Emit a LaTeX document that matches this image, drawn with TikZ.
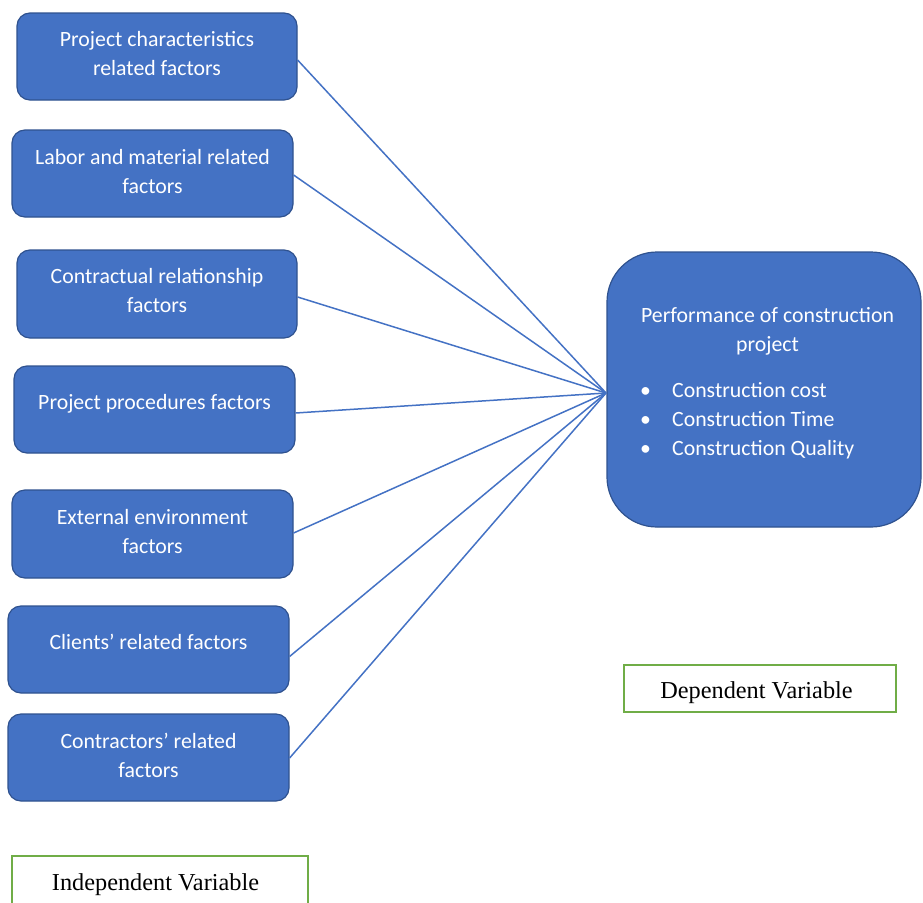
\documentclass[tikz,border=0pt]{standalone}
\usepackage{fontspec}
\setmainfont{Liberation Serif}
\newfontfamily\calfont{Carlito}
\usetikzlibrary{calc}
\definecolor{boxblue}{HTML}{4472C4}
\definecolor{boxedge}{HTML}{2F528F}
\definecolor{vargreen}{HTML}{70AD47}
\tikzset{
  factor/.style={draw=boxedge, fill=boxblue, line width=1.2pt, rounded corners=13pt,
    minimum width=281pt, minimum height=87pt, inner sep=0pt},
  ftext/.style={text=white, font=\calfont\fontsize{21.8}{29}\selectfont, align=center, inner sep=0pt},
  link/.style={draw=boxblue, line width=1.5pt},
  varbox/.style={draw=vargreen, line width=1.5pt, inner sep=0pt},
  vartext/.style={inner sep=0pt, font=\fontsize{24.3}{28}\selectfont}
}
\begin{document}
\begin{tikzpicture}[x=1pt,y=-1pt]
\useasboundingbox (0,0) rectangle (923,902);
% factor boxes
\node[factor, minimum width=280pt] (b1) at (157,56.5) {};
\node[factor] (b2) at (152.5,173.5) {};
\node[factor, minimum width=280pt, minimum height=88pt] (b3) at (157,294) {};
\node[factor] (b4) at (154.5,409.5) {};
\node[factor, minimum height=88pt] (b5) at (152.5,534) {};
\node[factor] (b6) at (148.5,649.5) {};
\node[factor] (b7) at (148.5,757.5) {};
% factor texts
\node[ftext] (t1) at (157,53.5) {Project characteristics\\related factors};
\node[ftext] (t2) at (152.5,172) {Labor and material related\\factors};
\node[ftext] (t3) at (157,291) {Contractual relationship\\factors};
\node[ftext] (t4) at (154.5,404) {Project procedures factors};
\node[ftext] (t5) at (152.5,531.5) {External environment\\factors};
\node[ftext] (t6) at (148.5,641.5) {Clients’ related factors};
\node[ftext] (t7) at (148.5,755.5) {Contractors’ related\\factors};
% dependent box
\node[draw=boxedge, fill=boxblue, line width=1.2pt, rounded corners=50pt, inner sep=0pt,
      minimum width=314pt, minimum height=275pt] (perf) at (764,389.5) {};
\node[ftext] (ptitle) at (767.5,331.5) {Performance of construction\\project};
\node[ftext, align=left, anchor=west] (plist) at (640,421)
  {\makebox[32pt][l]{•}Construction cost\\
   \makebox[32pt][l]{•}Construction Time\\
   \makebox[32pt][l]{•}Construction Quality};
% connectors
\coordinate (hub) at (606,393);
\draw[link] ($(b1.east)+(0,3.5)$) -- (hub);
\draw[link] ($(b2.east)+(0,1.5)$) -- (hub);
\draw[link] ($(b3.east)+(0,3)$) -- (hub);
\draw[link] ($(b4.east)+(0,3.5)$) -- (hub);
\draw[link] ($(b5.east)+(0,-1)$) -- (hub);
\draw[link] ($(b6.east)+(0,7)$) -- (hub);
\draw[link] ($(b7.east)+(0,0.5)$) -- (hub);
% variable labels
\node[varbox, minimum width=272pt, minimum height=47pt] (dep) at (760,688.5) {};
\node[vartext] (deptext) at (756.5,692.5) {Dependent Variable};
\node[varbox, minimum width=296pt, minimum height=56pt] (indep) at (160,884) {};
\node[vartext] (indeptext) at (155.5,884.5) {Independent Variable};
\end{tikzpicture}
\end{document}
